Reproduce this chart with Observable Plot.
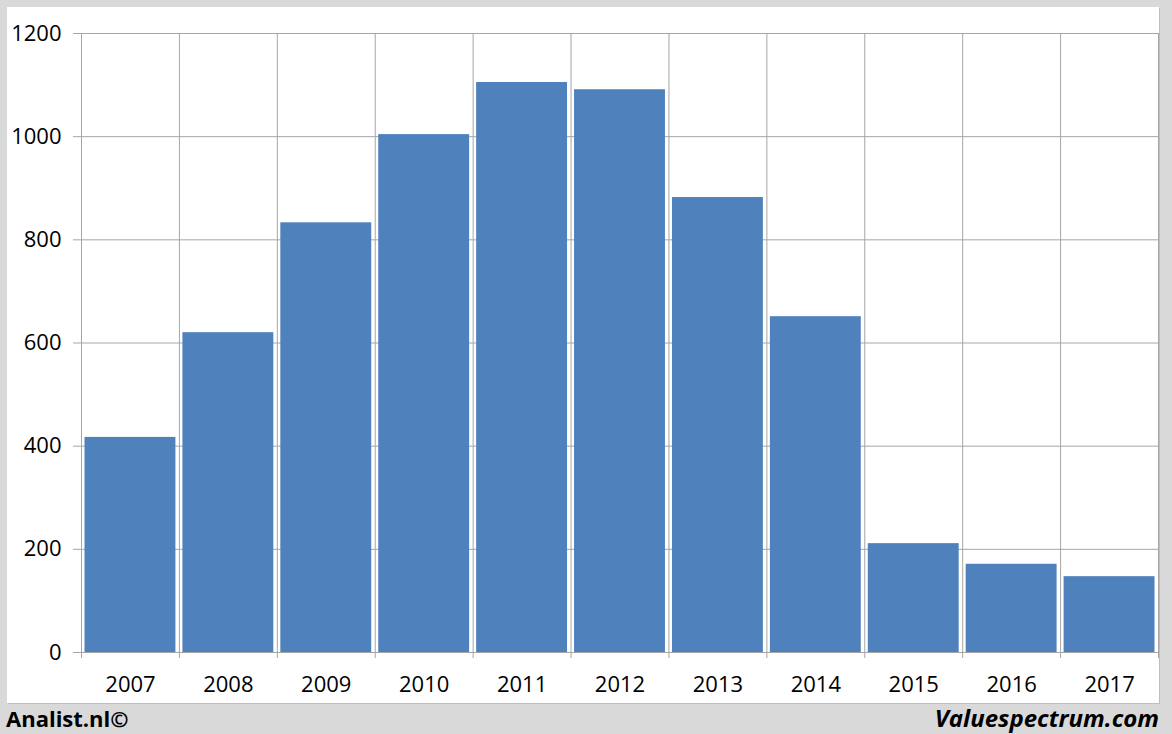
<!DOCTYPE html>
<html>
<head>
<meta charset="utf-8">
<script src="https://cdn.jsdelivr.net/npm/d3@7"></script>
<script src="https://cdn.jsdelivr.net/npm/@observablehq/plot@0.6"></script>
<style>
  html, body { margin: 0; padding: 0; background: #d9d9d9; }
  body { width: 1172px; height: 734px; position: relative; overflow: hidden; font-family: "Open Sans", sans-serif; }
  #panel { position: absolute; left: 7px; top: 7px; width: 1152px; height: 696px; background: #fff; box-shadow: 1px 1px 0 #bdbdbd; }
  #panel svg { display: block; overflow: visible; }
  .foot { position: absolute; top: 705px; font-family: "Open Sans", sans-serif; font-weight: 700; font-size: 22px; color: #000; line-height: 26px; }
  #left { left: 6px; }
  #right { right: 13px; font-style: italic; font-size: 24px; }
</style>
</head>
<body>
<div id="panel"></div>
<div class="foot" id="left">Analist.nl©</div>
<div class="foot" id="right">Valuespectrum.com</div>
<script>
const years = ["2007","2008","2009","2010","2011","2012","2013","2014","2015","2016","2017"];
const values = [417, 620, 833, 1004, 1105, 1091, 882, 651, 211, 171, 147];
const yTicks = [0, 200, 400, 600, 800, 1000, 1200];

const data = years.map((y, i) => ({year: y, i, value: values[i]}));
const edges = d3.range(years.length + 1);
const centers = years.map((_, i) => i + 0.5);
const gridColor = "#a6a6a6";

const chart = Plot.plot({
  width: 1152,
  height: 696,
  marginTop: 26,
  marginBottom: 51,
  marginLeft: 74,
  marginRight: 1,
  style: {fontFamily: "Open Sans, sans-serif", fontSize: "22px", color: "#000", background: "#fff"},
  x: {type: "linear", domain: [0, years.length]},
  y: {domain: [0, 1200]},
  marks: [
    Plot.ruleY(yTicks, {y: d => d, stroke: gridColor, strokeWidth: 1}),
    Plot.ruleX(edges, {x: d => d, y1: 0, y2: 1200, stroke: gridColor, strokeWidth: 1}),
    Plot.rectY(data, {x1: d => d.i, x2: d => d.i + 1, y1: 0, y2: "value", fill: "#4f81bd", insetLeft: 3.5, insetRight: 3.5}),
    Plot.axisY({ticks: yTicks, tickSize: 8, tickPadding: 12, stroke: gridColor, fill: "#000", fontSize: 22, tickFormat: d => String(d), label: null}),
    Plot.axisX({ticks: edges, tickSize: 6, stroke: gridColor, tickFormat: () => "", label: null}),
    Plot.axisX({ticks: centers, tickSize: 0, tickPadding: 24, tickFormat: d => years[Math.floor(d)], fill: "#000", fontSize: 22, label: null})
  ]
});
document.getElementById("panel").appendChild(chart);
</script>
</body>
</html>
